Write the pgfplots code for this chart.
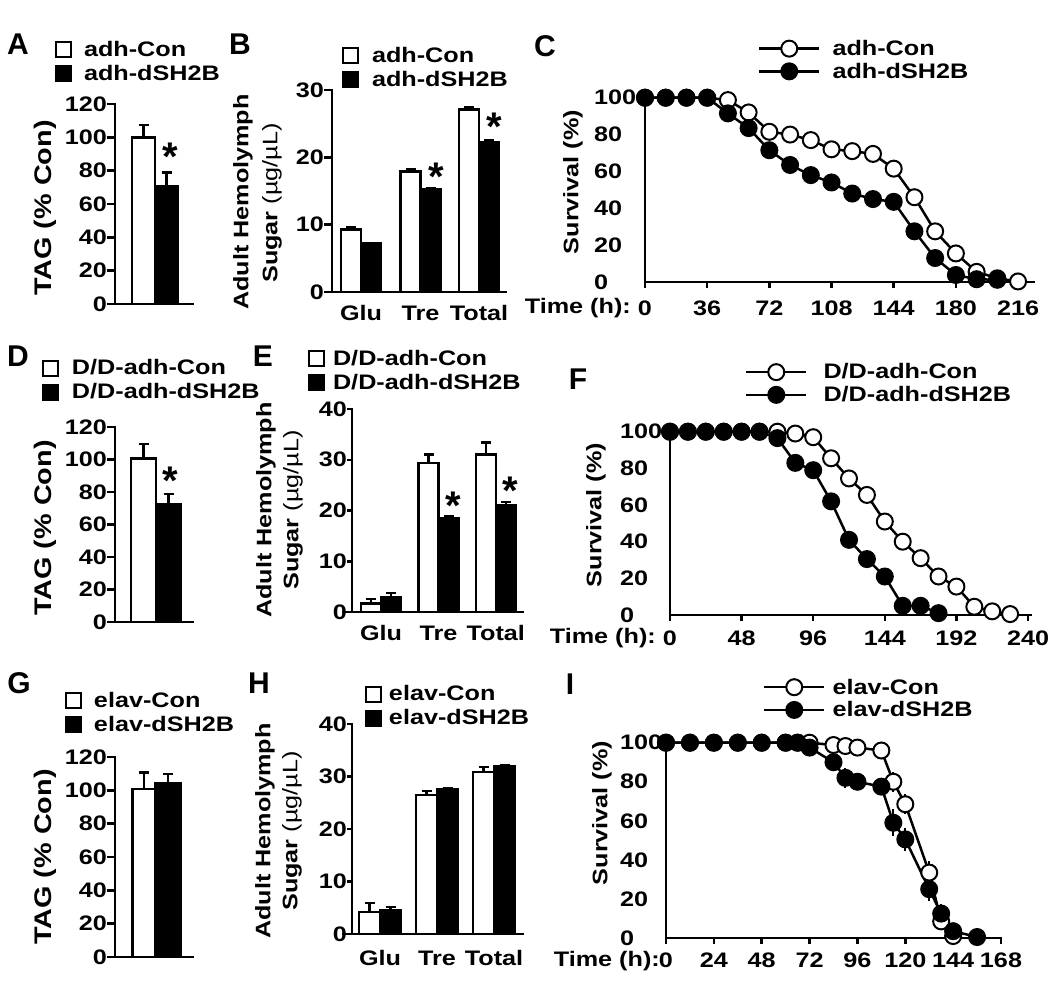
\documentclass[border=0pt]{standalone}
\usepackage{pgfplots}
\pgfplotsset{compat=1.18}
\usepackage{fontspec}
\setmainfont{Liberation Sans}[FakeStretch=1.2]
\newfontfamily\plain{Liberation Sans}
\newcommand\fs[1]{\fontsize{#1}{#1}\selectfont}
\pgfplotsset{
  base/.style={
    scale only axis, enlargelimits=false, clip=false,
    axis x line*=bottom, axis y line*=left,
    axis line style={-, line width=2.5pt, line cap=rect},
    tick style={line width=2.5pt, black},
    tick align=outside,
    ticklabel style={font=\bfseries\fs{21}},
    /pgf/number format/assume math mode=true,
    legend cell align=left,
    legend style={draw=none, fill=none, inner sep=0pt, outer sep=0pt,
      font=\bfseries\fs{21}, row sep=7pt, column sep=12pt, nodes={inner sep=0pt}},
  },
  sqleg/.style={legend image code/.code={\draw[##1, line width=2pt] (0pt,-7.5pt) rectangle (15pt,7.5pt);}},
  circleg/.style={legend image code/.code={\draw[##1, mark repeat=2, mark phase=2] plot coordinates {(0pt,0pt) (30pt,0pt) (60pt,0pt)};}},
  err/.style={/pgfplots/error bars/y dir=plus, /pgfplots/error bars/y explicit,
    /pgfplots/error bars/error bar style={line width=2.5pt, black, solid},
    /pgfplots/error bars/error mark options={rotate=90, line width=2.5pt, black, mark size=5pt}},
  barw/.style={ybar, bar shift=0pt, fill=white, draw=black, line width=2.5pt, sqleg, err},
  barb/.style={ybar, bar shift=0pt, fill=black, draw=black, line width=2.5pt, sqleg, err},
  tagax/.style={base, width=78pt, xmin=0, xmax=78, ymin=0, ymax=120, xtick=\empty,
    ytick={0,20,...,120}, major tick length=8pt, yticklabel style={inner sep=0pt}},
  sugax/.style={base, ymin=0, x tick style={draw=none}, yticklabel style={inner sep=0pt},
    xticklabels={Glu,Tre,Total}, xticklabel style={inner sep=0pt, text height=15pt, text depth=0pt}},
  survax/.style={base, ymin=0, ymax=100, xmin=0, ytick={0,20,...,100}, y tick style={draw=none},
    major tick length=6pt, yticklabel style={anchor=west, inner sep=0pt},
    xticklabel style={inner sep=0pt, text height=15pt, text depth=0pt},
    legend style={row sep=6pt}},
  scon/.style={black, line width=2.5pt, mark=*, mark size=8pt, mark options={fill=white, line width=2pt, solid}, circleg},
  sdsh/.style={black, line width=2.5pt, mark=*, mark size=8pt, mark options={fill=black, line width=2pt, solid}, circleg},
}
\begin{document}
\begin{tikzpicture}[x=1pt,y=-1pt]
\useasboundingbox (0,0) rectangle (1050,981);
% ---------------- A
\begin{axis}[tagax, at={(115pt,-304pt)}, anchor=south west, height=200pt,
  legend style={at={(-0.769,1.2125)}, anchor=west, column sep=12pt}]
\addplot[barw, bar width=23] coordinates {(28.5,100) +- (0,7.4)};
\addplot[barb, bar width=23] coordinates {(51.5,70.4) +- (0,8.4)};
\legend{adh-Con, adh-dSH2B}
\end{axis}
% ---------------- B
\begin{axis}[sugax, at={(332pt,-292pt)}, anchor=south west, width=174pt, height=202pt,
  xmin=0, xmax=174, ymax=30, ytick={0,10,20,30}, major tick length=8pt,
  xtick={29,88.5,147}, xticklabel style={yshift=-5.5pt},
  legend style={at={(0.0575,1.111)}, anchor=west, column sep=13pt}]
\addplot[barw, bar width=20] coordinates {(19,9.3) +- (0,0.3) (78.5,17.9) +- (0,0.4) (137,27.1) +- (0,0.3)};
\addplot[barb, bar width=20] coordinates {(39,7.2) +- (0,0.1) (98.5,15.2) +- (0,0.2) (157,22.3) +- (0,0.2)};
\legend{adh-Con, adh-dSH2B}
\end{axis}
% ---------------- C
\begin{axis}[survax, at={(645pt,-282pt)}, anchor=south west, width=388.6pt, height=184.3pt,
  xmax=225, xtick={0,36,...,216},
  yticklabel style={xshift=-45pt}, xticklabel style={yshift=-12.5pt},
  legend style={at={(0.2908,1.2046)}, anchor=west, column sep=12pt}]
\addplot[scon] coordinates {(0,100) (12,100) (24,100) (36,100) (48,98.7) (60,92) (72,81.5) (84,80) (96,77) (108,72) (120,71) (132,69.5) (144,61.5) (156,46) (168,27.5) (180,15.5) (192,5.5) (204,2) (216,0.3)};
\addplot[sdsh] coordinates {(0,100) (12,100) (24,100) (36,100) (48,91.5) (60,83.5) (72,71.5) (84,63.5) (96,58) (108,54) (120,48) (132,45) (144,43.5) (156,27.5) (168,13) (180,3.8) (192,1.5) (204,1.2)};
\legend{adh-Con, adh-dSH2B}
\end{axis}
% ---------------- D
\begin{axis}[tagax, at={(115pt,-622pt)}, anchor=south west, height=195pt,
  legend style={at={(-0.936,1.241)}, anchor=west, column sep=13pt}]
\addplot[barw, bar width=25] coordinates {(28.5,100.5) +- (0,9)};
\addplot[barb, bar width=25] coordinates {(53.5,72.5) +- (0,6.3)};
\legend{D/D-adh-Con, D/D-adh-dSH2B}
\end{axis}
% ---------------- E
\begin{axis}[sugax, at={(352pt,-612pt)}, anchor=south west, width=171pt, height=203pt,
  xmin=0, xmax=171, ymax=40, ytick={0,10,...,40}, major tick length=5pt,
  extra y ticks={0}, extra y tick labels={}, extra y tick style={major tick length=10pt},
  xtick={29,86.5,143.75}, xticklabel style={yshift=-8.5pt},
  legend style={at={(-0.257,1.190)}, anchor=west, column sep=8pt}]
\addplot[barw, bar width=20] coordinates {(19,1.7) +- (0,0.9) (76.5,29.4) +- (0,1.6) (133.75,31) +- (0,2.4)};
\addplot[barb, bar width=20] coordinates {(39,3.0) +- (0,0.7) (96.5,18.5) +- (0,0.3) (153.75,21) +- (0,0.7)};
\legend{D/D-adh-Con, D/D-adh-dSH2B}
\end{axis}
% ---------------- F
\begin{axis}[survax, at={(670pt,-615pt)}, anchor=south west, width=361pt, height=183.3pt,
  xmax=242, xtick={0,48,...,240},
  yticklabel style={xshift=-44pt}, xticklabel style={yshift=-9.5pt},
  legend style={at={(0.2078,1.263)}, anchor=west, column sep=16pt}]
\addplot[scon] coordinates {(0,100) (12,100) (24,100) (36,100) (48,100) (60,100) (72,100) (84,99) (96,97) (108,85.5) (120,74.5) (132,65.5) (144,51) (156,40) (168,31) (180,21) (192,15.5) (204,4.5) (216,2) (228,0.5)};
\addplot[sdsh] coordinates {(0,100) (12,100) (24,100) (36,100) (48,100) (60,100) (72,96.5) (84,83) (96,79) (108,62) (120,41) (132,30.5) (144,21) (156,5) (168,5) (180,1)};
\legend{D/D-adh-Con, D/D-adh-dSH2B}
\end{axis}
% ---------------- G
\begin{axis}[tagax, at={(115pt,-957pt)}, anchor=south west, height=200pt,
  legend style={at={(-0.641,1.2225)}, anchor=west, column sep=12pt}]
\addplot[barw, bar width=23] coordinates {(29,100.8) +- (0,10)};
\addplot[barb, bar width=25] coordinates {(53,104.4) +- (0,5.4)};
\legend{elav-Con, elav-dSH2B}
\end{axis}
% ---------------- H
\begin{axis}[sugax, at={(352pt,-934pt)}, anchor=south west, width=171pt, height=210pt,
  xmin=0, xmax=171, ymax=40, ytick={0,10,...,40}, major tick length=5pt,
  extra y ticks={0}, extra y tick labels={}, extra y tick style={major tick length=10pt},
  xtick={28,85,142}, xticklabel style={yshift=-11.5pt},
  legend style={at={(0.076,1.0857)}, anchor=west, column sep=7pt}]
\addplot[barw, bar width=21] coordinates {(17.5,4.2) +- (0,1.7) (74.5,26.5) +- (0,0.7) (131.5,30.9) +- (0,0.9)};
\addplot[barb, bar width=21] coordinates {(38.5,4.6) +- (0,0.5) (95.5,27.6) +- (0,0.2) (152.5,32) +- (0,0.2)};
\legend{elav-Con, elav-dSH2B}
\end{axis}
% ---------------- I
\begin{axis}[survax, at={(666pt,-938pt)}, anchor=south west, width=335pt, height=195.3pt,
  xmax=168, xtick={0,24,...,168},
  yticklabel style={xshift=-40pt}, xticklabel style={yshift=-8.5pt},
  legend style={at={(0.2896,1.226)}, anchor=west, column sep=7pt}]
\addplot[scon, error bars/.cd, y dir=both, y explicit, error mark=none, error bar style={line width=2pt, solid}] coordinates {(0,100) (12,100) (24,100) (36,100) (48,100) (60,100) (66,100) (72,100) (84,98.8) (90,98.3) (96,97.5) (108,96) (114,80) +- (0,5) (120,68.5) +- (0,5) (132,33.5) +- (0,6) (138,8.5) +- (0,3) (144,1)};
\addplot[sdsh, error bars/.cd, y dir=both, y explicit, error mark=none, error bar style={line width=2pt, solid}] coordinates {(0,100) (12,100) (24,100) (36,100) (48,100) (60,100) (66,100) (72,97.5) (84,90) +- (0,4) (90,82) +- (0,5) (96,80) +- (0,4) (108,77.5) (114,59) +- (0,7) (120,50.5) +- (0,6) (132,25) +- (0,6) (138,12.5) +- (0,5) (144,3.5) (156,0.5)};
\legend{elav-Con, elav-dSH2B}
\end{axis}
% ---------------- texts
\tikzset{lab/.style={font=\plain\bfseries\fs{30}}, ax/.style={font=\bfseries\fs{21}, rotate=90, inner sep=0pt},
  star/.style={font=\plain\bfseries\fs{40}, inner sep=0pt, anchor=north}}
\node[lab] at (18,44) {A};
\node[lab] at (240,44) {B};
\node[lab] at (545,46) {C};
\node[lab] at (18,356) {D};
\node[lab] at (263,356) {E};
\node[lab] at (578,379) {F};
\node[lab] at (19,683) {G};
\node[lab] at (259,683) {H};
\node[lab] at (570,684) {I};
\node[ax, font=\bfseries\fs{24}] at (45,208) {TAG (\% Con)};
\node[ax, font=\bfseries\fs{24}] at (45,528) {TAG (\% Con)};
\node[ax, font=\bfseries\fs{24}] at (45,857) {TAG (\% Con)};
\node[ax] at (243,202) {Adult Hemolymph};
\node[ax] at (272,203) {Sugar \mdseries(µg/µL)};
\node[ax] at (266,510) {Adult Hemolymph};
\node[ax] at (293,510) {Sugar \mdseries(µg/µL)};
\node[ax] at (265,831) {Adult Hemolymph};
\node[ax] at (292,831) {Sugar \mdseries(µg/µL)};
\node[ax] at (573,182) {Survival (\%)};
\node[ax] at (596,515) {Survival (\%)};
\node[ax] at (602,813) {Survival (\%)};
\node[font=\bfseries\fs{21}, anchor=east, inner sep=0pt] at (631,308) {Time (h):};
\node[font=\bfseries\fs{21}, anchor=east, inner sep=0pt] at (656,638) {Time (h):};
\node[font=\bfseries\fs{21}, anchor=east, inner sep=0pt] at (660,961) {Time (h):};
\node[star] at (170,143) {*};
\node[star] at (170,467) {*};
\node[star] at (436,163) {*};
\node[star] at (494,113) {*};
\node[star] at (453,492) {*};
\node[star] at (510,477) {*};
\end{tikzpicture}
\end{document}
